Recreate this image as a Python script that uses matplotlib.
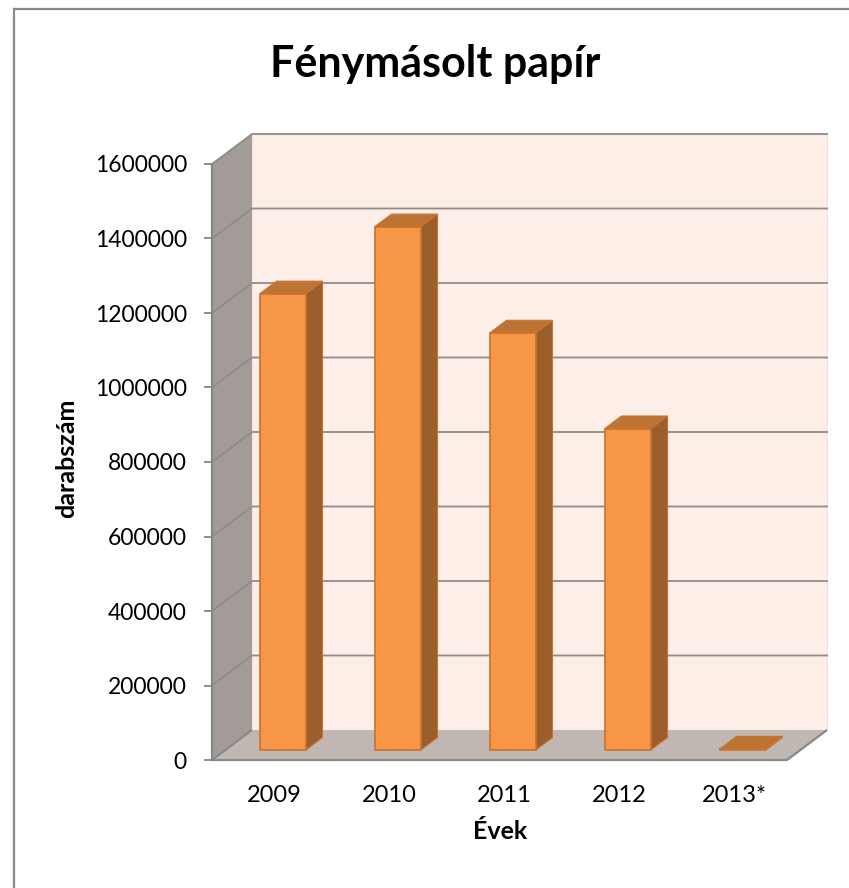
"""Fénymásolt papír -- pseudo-3D column chart (Excel look)."""
import matplotlib
matplotlib.use("Agg")
import matplotlib.pyplot as plt
from matplotlib.patches import Polygon
from matplotlib.lines import Line2D

plt.rcParams["font.family"] = ["Lato", "DejaVu Sans"]

years = ["2009", "2010", "2011", "2012", "2013*"]
counts = [1225000, 1405000, 1120000, 863000, 3000]
yticks = list(range(0, 1600001, 200000))

W, H = 849, 888
YMAX = 1600000
N = len(years)
DX = 40 / 115                      # wall depth, category units
DY = 30 / 596 * YMAX               # wall depth, value units
D0, DB = 0.33, 0.42                # bar front position / bar depth (fraction of depth)
BW = 0.4

C = {"wall_l": "#A39B97", "wall_b": "#FDEEE7", "floor": "#C0B7B3",
     "grid": "#8C8C8C", "front": "#F79646", "side": "#9C5E2A",
     "top": "#BD7334", "edge": "#C8732F"}

fig = plt.figure(figsize=(W / 100, H / 100), dpi=100)
ax = fig.add_axes([212 / W, (H - 760) / H, 575 / W, 596 / H])
ax.set_xlim(0, N)
ax.set_ylim(0, YMAX)
ax.patch.set_visible(False)
for s in ax.spines.values():
    s.set_visible(False)

def poly(pts, fc, ec="none", lw=0, z=1):
    ax.add_patch(Polygon(pts, closed=True, facecolor=fc, edgecolor=ec,
                         linewidth=lw, clip_on=False, zorder=z))

# walls and floor
poly([(0, 0), (DX, DY), (DX, YMAX + DY), (0, YMAX)], C["wall_l"], z=0.5)
poly([(DX, DY), (N + DX, DY), (N + DX, YMAX + DY), (DX, YMAX + DY)], C["wall_b"],
     ec="#F2E2DB", lw=0.8, z=0.5)
poly([(0, 0), (N, 0), (N + DX, DY), (DX, DY)], C["floor"], z=0.6)
ax.plot([DX, 0, N, N + DX], [DY, 0, 0, DY], color="#8A8A8A", lw=1.6,
        clip_on=False, zorder=0.7, solid_capstyle="butt")

# gridlines on back and side wall
for v in yticks[1:]:
    ax.plot([0, DX, N + DX], [v, v + DY, v + DY], color=C["grid"], lw=1.3,
            clip_on=False, zorder=0.8)

# value axis
ax.plot([0, 0], [0, YMAX], color="#868686", lw=1.6, clip_on=False, zorder=0.9)
ax.set_yticks(yticks)
ax.set_yticklabels([str(v) for v in yticks])
ax.tick_params(axis="y", length=6, width=1.3, color="#868686", pad=12,
               labelsize=16.5)

# bars: front face via bar(), side and top faces from the same values
ox, oy = D0 * DX, D0 * DY
bdx, bdy = DB * DX, DB * DY
xs = [i + 0.5 + ox for i in range(N)]
ax.bar(xs, counts, width=BW, bottom=oy, color=C["front"], edgecolor=C["edge"],
       linewidth=1.2, zorder=3, clip_on=False)
for x, v in zip(xs, counts):
    x0, x1, top = x - BW / 2, x + BW / 2, oy + v
    poly([(x1, oy), (x1 + bdx, oy + bdy), (x1 + bdx, top + bdy), (x1, top)],
         C["side"], ec=C["edge"], lw=0.8, z=2.5)
    poly([(x0, top), (x1, top), (x1 + bdx, top + bdy), (x0 + bdx, top + bdy)],
         C["top"], ec=C["edge"], lw=0.8, z=2.6)

ax.set_xticks([i + 0.54 for i in range(N)])
ax.set_xticklabels(years)
ax.tick_params(axis="x", length=0, pad=18, labelsize=17)

# titles
fig.text(435 / W, 1 - 64 / H, "Fénymásolt papír", ha="center", va="center",
         fontsize=31, fontweight="bold")
fig.text(67 / W, 1 - 458 / H, "darabszám", ha="center", va="center",
         rotation=90, fontsize=18, fontweight="bold")
fig.text(500 / W, 1 - 831 / H, "Évek", ha="center", va="center",
         fontsize=18, fontweight="bold")

# chart border (left and top edges visible)
fig.add_artist(Line2D([14 / W, 14 / W], [0, 1 - 9 / H], color="#898989", lw=1.6))
fig.add_artist(Line2D([14 / W, 1], [1 - 9 / H, 1 - 9 / H], color="#898989", lw=1.6))

fig.savefig("out.png", dpi=100)
